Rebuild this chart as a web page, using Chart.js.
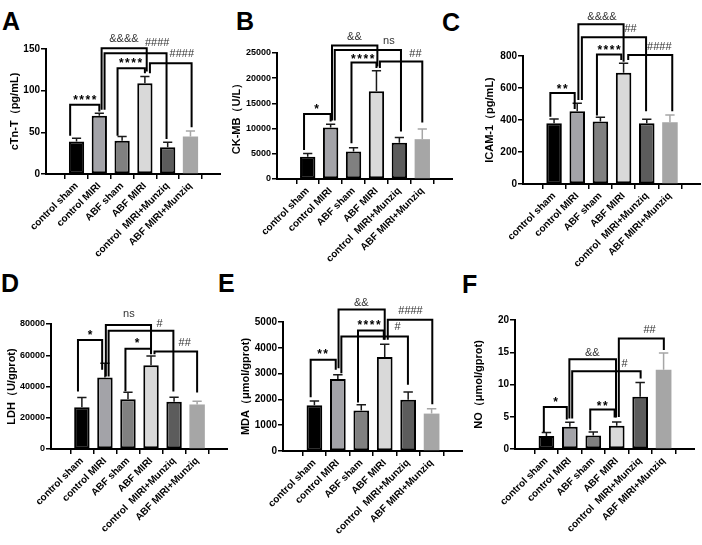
<!DOCTYPE html>
<html>
<head>
<meta charset="utf-8">
<script src="https://cdn.jsdelivr.net/npm/chart.js@4.4.0/dist/chart.umd.min.js"></script>
<style>
  body { margin: 0; background: #fff; width: 702px; height: 545px; position: relative; overflow: hidden; font-family: "Liberation Sans", Arial, sans-serif; }
  canvas { position: absolute; }
  .tag { position: absolute; font-weight: bold; font-size: 25px; line-height: 1; color: #000; }
</style>
</head>
<body>
<div class="tag" style="left:2px;top:9px">A</div>
<div class="tag" style="left:236px;top:9px">B</div>
<div class="tag" style="left:442px;top:10px">C</div>
<div class="tag" style="left:1px;top:271px">D</div>
<div class="tag" style="left:218px;top:271px">E</div>
<div class="tag" style="left:462px;top:272px">F</div>

<canvas id="chartA" width="213" height="270"></canvas>
<canvas id="chartB" width="223" height="270"></canvas>
<canvas id="chartC" width="218" height="270"></canvas>
<canvas id="chartD" width="223" height="273"></canvas>
<canvas id="chartE" width="224" height="273"></canvas>
<canvas id="chartF" width="223" height="273"></canvas>

<script>
// groups on the x axis
const groups = ['control sham', 'control MIRI', 'ABF sham', 'ABF MIRI', 'control  MIRI+Munziq', 'ABF MIRI+Munziq'];

// means and error (upper half only)
const cTnT = [39, 70, 40, 109, 32, 45];
const cTnTErr = [4, 3, 5, 8, 6, 6.5];
const ckmb = [4400, 10200, 5450, 17400, 7200, 7900];
const ckmbErr = [650, 650, 750, 4100, 1050, 2000];
const icam = [380, 455, 390, 695, 380, 386];
const icamErr = [27, 50, 27, 60, 25, 45];
const ldh = [26800, 45800, 31900, 53600, 30200, 28500];
const ldhErr = [6200, 9100, 4500, 6000, 3000, 2100];
const mda = [1770, 2790, 1570, 3640, 1990, 1450];
const mdaErr = [170, 165, 220, 500, 300, 190];
const no = [2.0, 3.45, 2.1, 3.6, 8.1, 12.3];
const noErr = [0.55, 0.7, 0.55, 0.6, 2.2, 2.6];

// y axis tops and steps
const yMax = [150, 25000, 800, 80000, 5000, 20];
const yStep = [50, 5000, 200, 20000, 1000, 5];

// significance brackets: [from, to, height, left leg end, right leg end, label, label x, label y]
const sigA = [
  [-0.28, 1.0, 83, 46, 75, '****', 0.36, 92],
  [1.8, 3.0, 127, 46, 121, '****', 2.37, 137],
  [3.22, 5.05, 133, 121, 56, '####', 4.62, 145],
  [1.1, 3.08, 151, 77, 123, '&&&&', 2.08, 163],
  [1.23, 3.95, 145, 77, 42, '####', 3.54, 158]
];
const sigB = [
  [-0.16, 1.0, 12900, 5760, 11390, '*', 0.39, 14400],
  [1.91, 3.0, 23100, 7080, 22000, '****', 2.4, 24300],
  [3.15, 5.0, 23300, 22000, 11200, '##', 4.7, 25000],
  [1.06, 3.04, 26500, 11600, 22300, '&&', 2.04, 28400],
  [1.18, 4.07, 25600, 11600, 9400, 'ns', 3.54, 27300]
];
const sigC = [
  [-0.16, 0.89, 568, 421, 469, '**', 0.35, 614],
  [1.85, 2.9, 810, 428, 775, '****', 2.37, 856],
  [3.2, 5.1, 806, 775, 455, '####', 4.54, 862],
  [1.05, 3.0, 999, 525, 764, '&&&&', 2.07, 1050],
  [1.2, 3.97, 917, 525, 455, '##', 3.3, 973]
];
const sigD = [
  [-0.17, 0.88, 69800, 36800, 50650, '*', 0.36, 74700],
  [1.89, 3.0, 64100, 36900, 60650, '*', 2.4, 69400],
  [3.15, 5.0, 62350, 60650, 36150, '##', 4.46, 68700],
  [1.04, 3.0, 79400, 46400, 61300, 'ns', 2.04, 86000],
  [1.16, 3.97, 75750, 46400, 36800, '#', 3.37, 80850]
];
const sigE = [
  [-0.16, 0.91, 3535, 2085, 3147, '**', 0.35, 3860],
  [1.86, 2.96, 4675, 1878, 4312, '****', 2.33, 4990],
  [1.15, 3.99, 4440, 3017, 2564, '#', 3.55, 4830],
  [3.13, 5.03, 5090, 4312, 1813, '####', 4.1, 5480],
  [1.03, 3.0, 5480, 3212, 4312, '&&', 2.0, 5770]
];
const sigF = [
  [-0.11, 0.87, 6.53, 2.64, 4.56, '*', 0.39, 7.67],
  [1.87, 2.91, 6.11, 2.9, 4.87, '**', 2.38, 7.05],
  [0.98, 2.97, 13.93, 4.71, 4.87, '&&', 1.96, 15.07],
  [1.1, 4.02, 12.07, 4.71, 10.93, '#', 3.33, 13.26],
  [3.09, 5.01, 17.15, 4.97, 15.33, '##', 4.4, 18.55]
];

const fills = ['#000000', '#a3a3a8', '#808080', '#d9d9d9', '#5c5c5c', '#a6a6a6'];
const FONT = '"Liberation Sans", Arial, sans-serif';

Chart.defaults.font.family = FONT;
Chart.defaults.color = '#000';
Chart.defaults.animation = false;

// error bars + brackets, all placed through the chart's scales
function sigPlugin(errors, brackets) {
  return {
    id: 'sig',
    afterDatasetsDraw(chart) {
      const ctx = chart.ctx;
      const x = chart.scales.x, y = chart.scales.y;
      const pts = chart.data.datasets[0].data;
      ctx.save();
      ctx.lineWidth = 1.5;
      chart.getDatasetMeta(0).data.forEach((bar, i) => {
        const top = y.getPixelForValue(pts[i].y + errors[i]);
        const half = bar.width * 0.3;
        ctx.strokeStyle = i === 5 ? '#a6a6a6' : '#1a1a1a';
        ctx.beginPath();
        ctx.moveTo(bar.x, bar.y);
        ctx.lineTo(bar.x, top);
        ctx.moveTo(bar.x - half, top);
        ctx.lineTo(bar.x + half, top);
        ctx.stroke();
      });

      ctx.strokeStyle = '#000';
      ctx.lineWidth = 2;
      ctx.lineJoin = 'miter';
      ctx.textAlign = 'center';
      ctx.textBaseline = 'alphabetic';
      brackets.forEach(([x1, x2, h, e1, e2, label, tx, ty]) => {
        const px1 = x.getPixelForValue(x1), px2 = x.getPixelForValue(x2);
        const py = y.getPixelForValue(h);
        ctx.beginPath();
        ctx.moveTo(px1, y.getPixelForValue(e1));
        ctx.lineTo(px1, py);
        ctx.lineTo(px2, py);
        ctx.lineTo(px2, y.getPixelForValue(e2));
        ctx.stroke();

        const cx = x.getPixelForValue(tx), cy = y.getPixelForValue(ty);
        if (label[0] === '*') {
          ctx.font = 'bold 12px ' + FONT;
          ctx.letterSpacing = '1.5px';
          ctx.fillStyle = '#000';
          ctx.fillText(label, cx + 0.75, cy + 12 * 0.57);
        } else {
          ctx.font = '11px ' + FONT;
          ctx.letterSpacing = '0px';
          ctx.fillStyle = '#333';
          ctx.fillText(label, cx, cy + 11 * (label === 'ns' ? 0.26 : 0.36));
        }
      });
      ctx.restore();
    }
  };
}

function makeChart(id, g, values, errors, brackets, title, top, step, tickSize) {
  const cv = document.getElementById(id);
  cv.style.left = g.L + 'px';
  cv.style.top = g.T + 'px';
  return new Chart(cv, {
    type: 'bar',
    data: {
      datasets: [{
        data: values.map((v, i) => ({ x: i, y: v })),
        backgroundColor: fills,
        borderColor: '#000',
        borderWidth: [2, 2, 2, 2, 2, 0],
        borderSkipped: false,
        barPercentage: 0.67,
        categoryPercentage: 1
      }]
    },
    options: {
      responsive: false,
      layout: { padding: { top: g.pt, left: 0, right: 0, bottom: 0 }, autoPadding: false },
      plugins: { legend: { display: false }, tooltip: { enabled: false } },
      scales: {
        x: {
          type: 'linear',
          min: -0.7,
          max: 5.7,
          afterBuildTicks: s => { s.ticks = groups.map((_, i) => ({ value: i })); },
          ticks: {
            callback: v => groups[v],
            minRotation: 45,
            maxRotation: 45,
            autoSkip: false,
            padding: 1,
            color: '#000',
            font: { size: 10, weight: 'bold' }
          },
          grid: { drawOnChartArea: false, tickLength: 5, color: '#000', lineWidth: 1.5 },
          border: { color: '#000', width: 2 },
          afterFit: s => { s.height = g.xh; }
        },
        y: {
          min: 0,
          max: top,
          ticks: { stepSize: step, padding: 1, color: '#000', font: { size: tickSize, weight: 'bold' }, callback: v => String(v) },
          grid: { drawOnChartArea: false, tickLength: 5, color: '#000', lineWidth: 1.5 },
          border: { color: '#000', width: 2 },
          title: { display: true, text: title, padding: 0, color: '#000', font: { size: 11, weight: 'bold' } },
          afterFit: s => { s.width = g.yw; }
        }
      }
    },
    plugins: [sigPlugin(errors, brackets)]
  });
}

makeChart('chartA', { L: 8, T: 0, yw: 38, xh: 96, pt: 49 }, cTnT, cTnTErr, sigA, 'cTn-T（pg/mL)', yMax[0], yStep[0], 10);
makeChart('chartB', { L: 230, T: 0, yw: 47, xh: 91, pt: 53 }, ckmb, ckmbErr, sigB, 'CK-MB（U/L）', yMax[1], yStep[1], 9);
makeChart('chartC', { L: 483, T: 0, yw: 40, xh: 86, pt: 56 }, icam, icamErr, sigC, 'ICAM-1（pg/mL)', yMax[2], yStep[2], 10);
makeChart('chartD', { L: 5, T: 272, yw: 46, xh: 96, pt: 52 }, ldh, ldhErr, sigD, 'LDH（U/gprot)', yMax[3], yStep[3], 9);
makeChart('chartE', { L: 239, T: 272, yw: 44, xh: 94, pt: 50 }, mda, mdaErr, sigE, 'MDA（μmol/gprot)', yMax[4], yStep[4], 10);
makeChart('chartF', { L: 472, T: 272, yw: 43, xh: 96, pt: 48 }, no, noErr, sigF, 'NO（μmol/gprot)', yMax[5], yStep[5], 10);
</script>
</body>
</html>
